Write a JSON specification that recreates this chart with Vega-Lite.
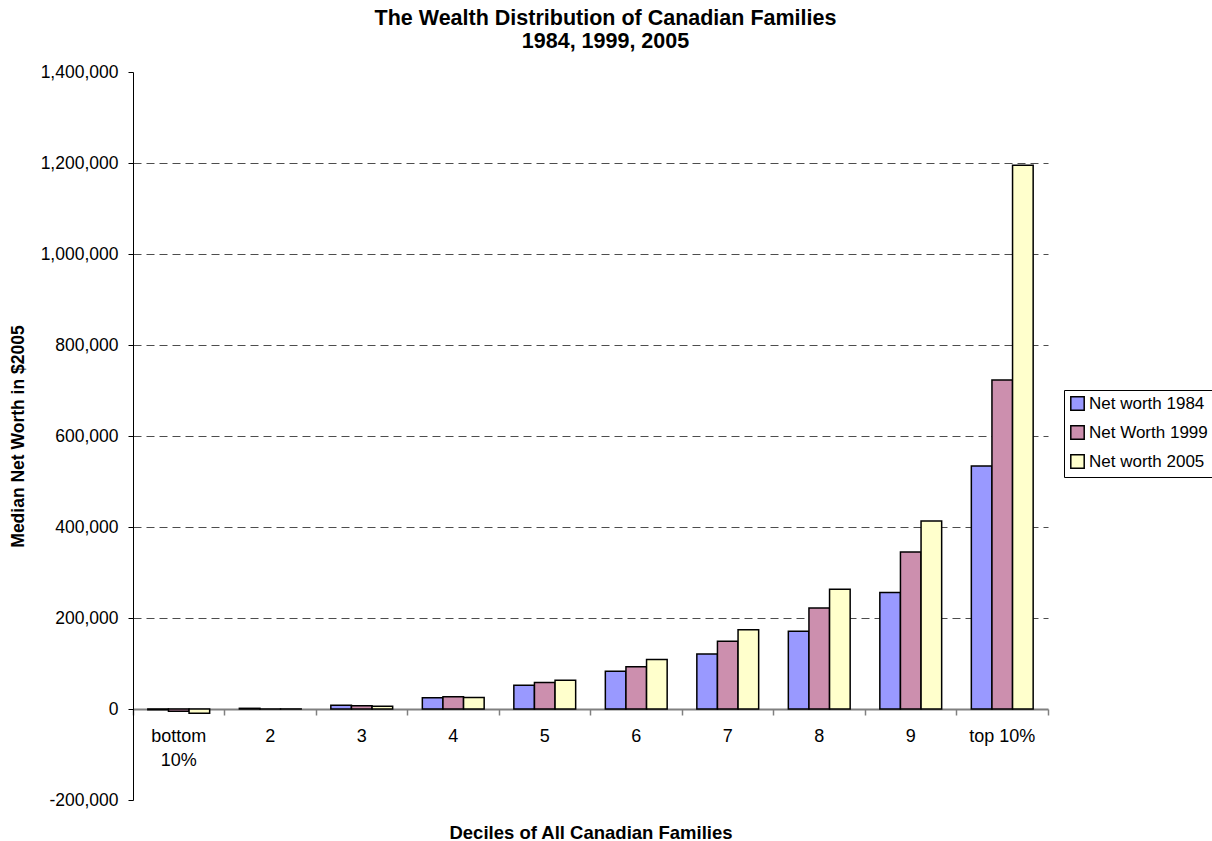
{
  "$schema": "https://vega.github.io/schema/vega-lite/v6.json",
  "width": 915,
  "height": 728,
  "autosize": {"type": "none"},
  "padding": {"left": 133, "top": 72, "right": 164, "bottom": 41},
  "background": "white",
  "title": {
    "text": ["The Wealth Distribution of Canadian Families", "1984, 1999, 2005"],
    "font": "Liberation Sans",
    "fontSize": 21.5,
    "fontWeight": "bold",
    "color": "black",
    "lineHeight": 23,
    "anchor": "middle",
    "dx": 15,
    "offset": 11
  },
  "config": {
    "view": {"stroke": null},
    "font": "Liberation Sans"
  },
  "data": {
    "values": [
      {"decile": "bottom 10%", "series": "Net worth 1984", "value": -1500},
      {"decile": "bottom 10%", "series": "Net Worth 1999", "value": -5000},
      {"decile": "bottom 10%", "series": "Net worth 2005", "value": -9500},
      {"decile": "2", "series": "Net worth 1984", "value": 1500},
      {"decile": "2", "series": "Net Worth 1999", "value": 200},
      {"decile": "2", "series": "Net worth 2005", "value": 100},
      {"decile": "3", "series": "Net worth 1984", "value": 8500},
      {"decile": "3", "series": "Net Worth 1999", "value": 7000},
      {"decile": "3", "series": "Net worth 2005", "value": 6000},
      {"decile": "4", "series": "Net worth 1984", "value": 25000},
      {"decile": "4", "series": "Net Worth 1999", "value": 27000},
      {"decile": "4", "series": "Net worth 2005", "value": 25500},
      {"decile": "5", "series": "Net worth 1984", "value": 52000},
      {"decile": "5", "series": "Net Worth 1999", "value": 58000},
      {"decile": "5", "series": "Net worth 2005", "value": 63000},
      {"decile": "6", "series": "Net worth 1984", "value": 83000},
      {"decile": "6", "series": "Net Worth 1999", "value": 93000},
      {"decile": "6", "series": "Net worth 2005", "value": 109000},
      {"decile": "7", "series": "Net worth 1984", "value": 121000},
      {"decile": "7", "series": "Net Worth 1999", "value": 149000},
      {"decile": "7", "series": "Net worth 2005", "value": 174000},
      {"decile": "8", "series": "Net worth 1984", "value": 171000},
      {"decile": "8", "series": "Net Worth 1999", "value": 222000},
      {"decile": "8", "series": "Net worth 2005", "value": 263000},
      {"decile": "9", "series": "Net worth 1984", "value": 256000},
      {"decile": "9", "series": "Net Worth 1999", "value": 345000},
      {"decile": "9", "series": "Net worth 2005", "value": 413000},
      {"decile": "top 10%", "series": "Net worth 1984", "value": 534000},
      {"decile": "top 10%", "series": "Net Worth 1999", "value": 723000},
      {"decile": "top 10%", "series": "Net worth 2005", "value": 1195000}
    ]
  },
  "mark": {"type": "bar", "stroke": "black", "strokeWidth": 1.5, "opacity": 1},
  "encoding": {
    "x": {
      "field": "decile",
      "type": "nominal",
      "sort": null,
      "scale": {"paddingInner": 0, "paddingOuter": 0},
      "axis": {
        "title": "Deciles of All Canadian Families",
        "titleFont": "Liberation Sans",
        "titleFontSize": 18.5,
        "titleFontWeight": "bold",
        "titleColor": "black",
        "titleY": 129,
        "titleBaseline": "alphabetic",
        "offset": -91,
        "labelAngle": 0,
        "labelFont": "Liberation Sans",
        "labelFontSize": 18,
        "labelColor": "black",
        "labelPadding": 12,
        "labelLineHeight": 24,
        "labelExpr": "datum.label == 'bottom 10%' ? ['bottom', '10%'] : datum.label",
        "bandPosition": 1,
        "tickExtra": true,
        "tickSize": 6,
        "tickColor": "#808080",
        "tickWidth": 1.5,
        "domainColor": "#808080",
        "domainWidth": 2,
        "grid": false
      }
    },
    "xOffset": {
      "field": "series",
      "type": "nominal",
      "sort": null,
      "scale": {"paddingInner": 0, "paddingOuter": 0.72}
    },
    "y": {
      "field": "value",
      "type": "quantitative",
      "scale": {"domain": [-200000, 1400000], "nice": false, "zero": false},
      "axis": {
        "title": "Median Net Worth in $2005",
        "titleFont": "Liberation Sans",
        "titleFontSize": 17.5,
        "titleFontWeight": "bold",
        "titleColor": "black",
        "titleX": -115,
        "titleBaseline": "middle",
        "values": [-200000, 0, 200000, 400000, 600000, 800000, 1000000, 1200000, 1400000],
        "labelExpr": "datum.value < 0 ? '-' + format(-datum.value, ',d') : format(datum.value, ',d')",
        "labelFont": "Liberation Sans",
        "labelFontSize": 17.5,
        "labelColor": "black",
        "labelPadding": 10,
        "tickSize": 5,
        "tickColor": "black",
        "domainColor": "black",
        "domainWidth": 1,
        "grid": true,
        "gridColor": "#4d4d4d",
        "gridDash": [8, 5],
        "gridWidth": 1,
        "gridOpacity": {"condition": {"test": "datum.value <= 0 || datum.value >= 1400000", "value": 0}, "value": 1}
      }
    },
    "color": {
      "field": "series",
      "type": "nominal",
      "sort": null,
      "scale": {
        "domain": ["Net worth 1984", "Net Worth 1999", "Net worth 2005"],
        "range": ["#9999FF", "#CC8FAE", "#FFFFCC"]
      },
      "legend": {
        "title": null,
        "orient": "none",
        "legendX": 931,
        "legendY": 318,
        "strokeColor": "black",
        "fillColor": "white",
        "padding": 5,
        "symbolType": "square",
        "symbolSize": 180,
        "symbolStrokeColor": "black",
        "symbolStrokeWidth": 1.5,
        "symbolOpacity": 1,
        "labelFont": "Liberation Sans",
        "labelFontSize": 17,
        "labelColor": "black",
        "labelOffset": 3,
        "labelLimit": 300,
        "rowPadding": 8
      }
    }
  }
}
